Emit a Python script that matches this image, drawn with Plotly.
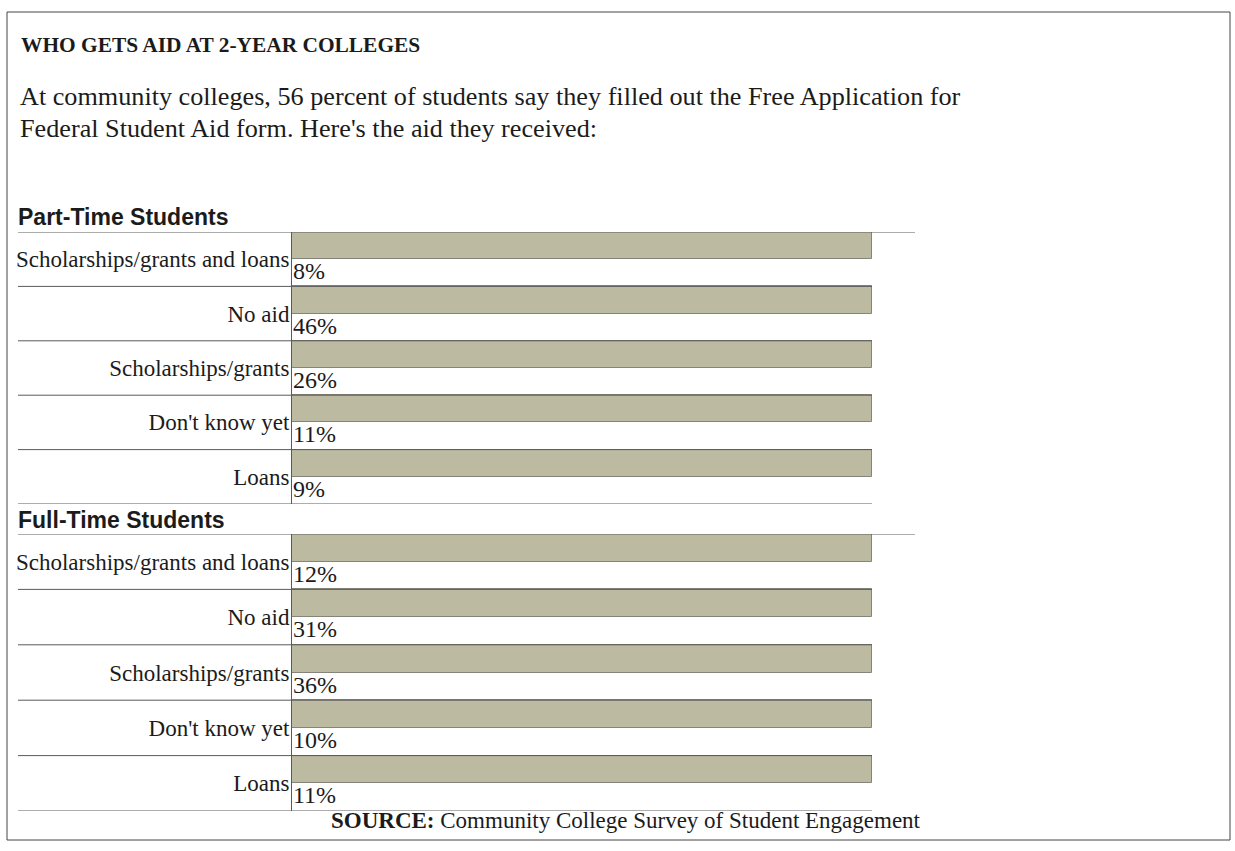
import plotly.graph_objects as go

# ---- data -----------------------------------------------------------------
categories = [
    "Scholarships/grants and loans",
    "No aid",
    "Scholarships/grants",
    "Don't know yet",
    "Loans",
]
part_time_pct = [8, 46, 26, 11, 9]
full_time_pct = [12, 31, 36, 10, 11]
scale_max = 100  # full length of each bar track

title = "WHO GETS AID AT 2-YEAR COLLEGES"
intro_lines = [
    "At community colleges, 56 percent of students say they filled out the Free Application for",
    "Federal Student Aid form. Here's the aid they received:",
]
group_titles = ["Part-Time Students", "Full-Time Students"]
source = "<b>SOURCE:</b> Community College Survey of Student Engagement"

# ---- styling ----------------------------------------------------------------
W, H = 1235, 851
SERIF = "Liberation Serif, Times New Roman, serif"
SANS = "Liberation Sans, Arial, sans-serif"
INK = "#1b1b1b"
RULE = "#5a5a5a"
BAR = "#bcbaa1"
BAR_EDGE = "#85847a"


def px(x):
    return x / W


def py(y):
    return 1 - y / H


# pixel extents of each group: (top rule, bottom rule)
groups = [
    dict(pct=part_time_pct, top=232, bottom=504, header_y=217, ax="", long_rule=915),
    dict(pct=full_time_pct, top=534, bottom=811, header_y=520, ax="2", long_rule=915),
]
plot_left, plot_right = 292, 872
rule_left = 18

fig = go.Figure()
annotations = []
shapes = []
n = len(categories)

for g, grp in enumerate(groups):
    xa = "x" + grp["ax"]
    ya = "y" + grp["ax"]
    rows = list(range(n))

    # full-length track
    fig.add_trace(go.Bar(
        orientation="h",
        x=[scale_max] * n,
        y=[r + 0.25 for r in rows],
        width=0.5,
        marker=dict(color=BAR, line=dict(color=BAR_EDGE, width=1)),
        xaxis=xa, yaxis=ya, showlegend=False, hoverinfo="skip",
    ))
    # value bar sitting on the track
    fig.add_trace(go.Bar(
        orientation="h",
        x=grp["pct"],
        y=[r + 0.25 for r in rows],
        width=0.44,
        marker=dict(color=BAR, line=dict(width=0)),
        xaxis=xa, yaxis=ya, showlegend=False,
        hovertemplate="%{x}%<extra></extra>",
    ))

    # percentage labels under each bar
    for r, v in zip(rows, grp["pct"]):
        annotations.append(dict(
            x=0, y=r + 0.72, xref=xa, yref=ya,
            text=f"{v}%", showarrow=False, xanchor="left", yanchor="middle",
            xshift=-1, font=dict(family=SERIF, size=24, color=INK),
        ))

    # horizontal rules between rows
    for k in range(n + 1):
        x1 = grp["long_rule"] if k == 0 else plot_right
        shapes.append(dict(
            type="line", xref="paper", yref=ya,
            x0=px(rule_left), x1=px(x1), y0=k, y1=k,
            line=dict(color=RULE, width=1), layer="above",
        ))

    annotations.append(dict(
        x=px(rule_left - 2), y=py(grp["header_y"]), xref="paper", yref="paper",
        text=f"<b>{group_titles[g]}</b>", showarrow=False,
        xanchor="left", yanchor="middle",
        font=dict(family=SANS, size=23, color=INK),
    ))

    axis_x = dict(
        domain=[px(plot_left), px(plot_right)], range=[0, scale_max],
        showgrid=False, zeroline=False, showticklabels=False, showline=False,
        anchor=ya,
    )
    axis_y = dict(
        domain=[py(grp["bottom"]), py(grp["top"])], range=[n, 0],
        tickvals=[r + 0.5 for r in rows], ticktext=categories,
        tickfont=dict(family=SERIF, size=23, color=INK),
        showgrid=False, zeroline=False, ticks="",
        ticklabelstandoff=-3,
        showline=True, linecolor=RULE, linewidth=1,
        anchor=xa,
    )
    fig.layout["xaxis" + grp["ax"]] = axis_x
    fig.layout["yaxis" + grp["ax"]] = axis_y

# heading and intro text
annotations.append(dict(
    x=px(19), y=py(45), xref="paper", yref="paper", text=f"<b>{title}</b>",
    showarrow=False, xanchor="left", yanchor="middle",
    font=dict(family=SERIF, size=21.4, color=INK),
))
for i, line in enumerate(intro_lines):
    annotations.append(dict(
        x=px(18), y=py(96 + 32 * i), xref="paper", yref="paper", text=line,
        showarrow=False, xanchor="left", yanchor="middle",
        font=dict(family=SERIF, size=26.2, color=INK),
    ))
annotations.append(dict(
    x=px(626), y=py(820), xref="paper", yref="paper", text=source,
    showarrow=False, xanchor="center", yanchor="middle",
    font=dict(family=SERIF, size=23, color=INK),
))

# outer frame
shapes.append(dict(
    type="rect", xref="paper", yref="paper",
    x0=px(7), x1=px(1230), y0=py(840), y1=py(12),
    line=dict(color="#444444", width=1), fillcolor="rgba(0,0,0,0)",
))

fig.update_layout(
    width=W, height=H,
    margin=dict(l=0, r=0, t=0, b=0),
    paper_bgcolor="white", plot_bgcolor="rgba(0,0,0,0)",
    barmode="overlay", bargap=0,
    annotations=annotations, shapes=shapes,
    showlegend=False,
)

fig.write_html("out.html")
